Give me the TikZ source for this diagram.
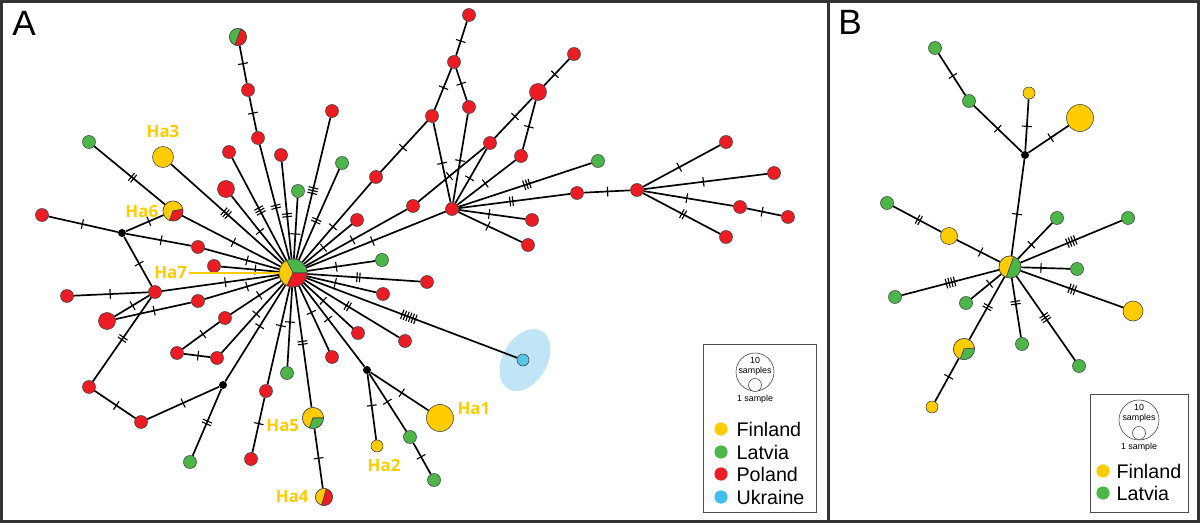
\documentclass[tikz,border=0pt]{standalone}
\usepackage{fontspec}
\setmainfont{Liberation Sans}
\newfontfamily\labfont{Open Sans}
\usetikzlibrary{positioning}

\definecolor{fin}{RGB}{255,204,0}
\definecolor{lat}{RGB}{76,183,72}
\definecolor{pol}{RGB}{237,28,36}
\definecolor{ukr}{RGB}{88,198,232}
\definecolor{ukrlt}{RGB}{192,229,246}
\definecolor{ukrkey}{RGB}{62,191,240}

\newcommand{\mk}{\rule[-3.5pt]{.8pt}{7pt}\kern1.2pt}
\newcommand{\wdg}[5]{\filldraw[fill=#5, draw=black!75, line width=.4pt] (#1.center) -- ++(#2:#4) arc[start angle=#2, end angle=#3, radius=#4] -- cycle;}

\tikzset{
  hap/.style={circle, draw=black!75, line width=.4pt, inner sep=0pt, minimum size=#1*0.025cm},
  hap/.default=13,
  pl/.style={hap=#1, fill=pol}, pl/.default=13,
  lv/.style={hap=#1, fill=lat}, lv/.default=13,
  fi/.style={hap=#1, fill=fin}, fi/.default=13,
  ua/.style={hap=#1, fill=ukr}, ua/.default=12,
  mv/.style={circle, fill=black, inner sep=0pt, minimum size=0.2cm},
  edge/.style={line width=1.2pt},
  tk/.style={sloped, inner sep=0pt, pos=#1},
  lab/.style={font=\labfont\bfseries\fontsize{12}{14}\selectfont, text=fin, inner sep=0pt},
  panelframe/.style={line width=2.2pt, draw=black!80},
  keybox/.style={line width=.6pt, draw=black!70},
  key/.style={circle, fill=#1, inner sep=0pt, minimum size=0.33cm},
  keytext/.style={inner sep=0pt, font=\fontsize{14}{16}\selectfont},
  keysmall/.style={inner sep=0pt, align=center, font=\fontsize{6.3}{7}\selectfont},
}

\begin{document}
\begin{tikzpicture}[x=0.025cm, y=-0.025cm]
    \useasboundingbox (0,0) rectangle (1200,523);
    \draw[panelframe] (1.5,1.5) rectangle (1198.5,521.5);
    \draw[panelframe] (828.5,1.5) -- (828.5,521.5);
    \node[font=\fontsize{25}{30}\selectfont, inner sep=0pt] (pA) at (24,23) {A};
    \node[font=\fontsize{25}{30}\selectfont, inner sep=0pt] (pB) at (850,22) {B};

    \fill[ukrlt, shift={(525,360)}, rotate=60] (0,0) ellipse [x radius=0.835cm, y radius=0.555cm];

    \node[hap=28] (hubA) at (293,273) {};
    \node[hap=17] (pie0) at (238,37) {};
    \node[hap=20] (ha6) at (173,211) {};
    \node[hap=21] (ha5) at (313,418) {};
    \node[hap=17] (ha4) at (324,497) {};
    \node[fi=21] (ha3) at (163,157) {};
    \node[fi=27] (ha1) at (440,418) {};
    \node[fi=12] (ha2) at (377,446) {};
    \node[ua] (ua1) at (523,360) {};
    \node[mv] (mv1) at (122,233) {};
    \node[mv] (mv2) at (223,385) {};
    \node[mv] (mv3) at (367,370) {};

    \node[pl] (p1) at (258,138) {};
    \node[pl] (p2) at (248,90) {};
    \node[pl] (p3) at (229,152) {};
    \node[pl] (p4) at (281,155) {};
    \node[pl] (p5) at (332,111) {};
    \node[pl=17] (p6) at (226,189) {};
    \node[pl] (p7) at (376,177) {};
    \node[pl] (p8) at (357,220) {};
    \node[pl] (p9) at (413,206) {};
    \node[pl] (p10) at (452,209) {};
    \node[pl] (p11) at (198,247) {};
    \node[pl] (p12) at (214,266) {};
    \node[pl] (p13) at (155,292) {};
    \node[pl] (p14) at (198,301) {};
    \node[pl] (p15) at (225,318) {};
    \node[pl] (p16) at (217,358) {};
    \node[pl] (p17) at (266,391) {};
    \node[pl] (p18) at (332,357) {};
    \node[pl] (p19) at (358,333) {};
    \node[pl] (p20) at (405,341) {};
    \node[pl] (p21) at (383,294) {};
    \node[pl] (p22) at (427,282) {};
    \node[pl] (p23) at (42,215) {};
    \node[pl] (p24) at (67,296) {};
    \node[pl=17] (p25) at (107,321) {};
    \node[pl] (p26) at (89,387) {};
    \node[pl] (p27) at (177,353) {};
    \node[pl] (p28) at (141,422) {};
    \node[pl] (p29) at (251,459) {};
    \node[pl] (p30) at (432,116) {};
    \node[pl] (p31) at (454,62) {};
    \node[pl] (p32) at (469,15) {};
    \node[pl] (p33) at (469,107) {};
    \node[pl] (p34) at (490,143) {};
    \node[pl=17] (p35) at (538,92) {};
    \node[pl] (p36) at (574,54) {};
    \node[pl] (p37) at (521,156) {};
    \node[pl] (p38) at (577,193) {};
    \node[pl] (p39) at (532,220) {};
    \node[pl] (p40) at (528,245) {};
    \node[pl] (p41) at (637,190) {};
    \node[pl] (p42) at (726,142) {};
    \node[pl] (p43) at (774,173) {};
    \node[pl] (p44) at (740,207) {};
    \node[pl] (p45) at (788,217) {};
    \node[pl] (p46) at (726,237) {};

    \node[lv] (l1) at (89,142) {};
    \node[lv] (l2) at (298,191) {};
    \node[lv] (l3) at (342,163) {};
    \node[lv] (l4) at (287,373) {};
    \node[lv] (l5) at (190,462) {};
    \node[lv] (l6) at (410,437) {};
    \node[lv] (l7) at (434,480) {};
    \node[lv] (l8) at (382,260) {};
    \node[lv] (l9) at (598,161) {};

    \draw[edge] (hubA) -- node[tk=.45]{\mk\mk} (p1);
    \draw[edge] (hubA) -- node[tk=.48]{\mk\mk\mk} (p3);
    \draw[edge] (hubA) -- node[tk=.44]{\mk\mk} (p4);
    \draw[edge] (hubA) -- node[tk=.49]{\mk\mk\mk} (p5);
    \draw[edge] (hubA) -- node[tk=.44]{\mk\mk} (l3);
    \draw[edge] (hubA) -- node[tk=.42]{\mk} (l2);
    \draw[edge] (hubA) -- node[tk=.45]{\mk} (p6);
    \draw[edge] (hubA) -- node[tk=.45]{\mk} (p7);
    \draw[edge] (hubA) -- node[tk=.42]{\mk} (p8);
    \draw[edge] (hubA) -- node[tk=.47]{\mk} (p9);
    \draw[edge] (hubA) -- node[tk=.48]{\mk} (p10);
    \draw[edge] (hubA) -- node[tk=.50]{\mk\mk\mk} (ha3);
    \draw[edge] (hubA) -- node[tk=.47]{\mk} (ha6);
    \draw[edge] (hubA) -- node[tk=.42]{\mk} (p11);
    \draw[edge] (hubA) -- node[tk=.39]{\mk} (p12);
    \draw[edge] (hubA) -- node[tk=.45]{\mk} (p13);
    \draw[edge] (hubA) -- node[tk=.42]{\mk} (p14);
    \draw[edge] (hubA) -- node[tk=.42]{\mk} (p15);
    \draw[edge] (hubA) -- node[tk=.43]{\mk} (p16);
    \draw[edge] (hubA) -- node[tk=.42]{\mk} (mv2);
    \draw[edge] (hubA) -- node[tk=.39]{\mk} (p17);
    \draw[edge] (hubA) -- node[tk=.43]{\mk} (l4);
    \draw[edge] (hubA) -- node[tk=.47]{\mk\mk} (ha5);
    \draw[edge] (hubA) -- node[tk=.42]{\mk} (p18);
    \draw[edge] (hubA) -- node[tk=.41]{\mk} (p19);
    \draw[edge] (hubA) -- node[tk=.43]{\mk} (mv3);
    \draw[edge] (hubA) -- node[tk=.46]{\mk\mk} (p20);
    \draw[edge] (hubA) -- node[tk=.49]{\mk\mk\mk\mk\mk\mk} (ua1);
    \draw[edge] (hubA) -- node[tk=.42]{\mk} (p21);
    \draw[edge] (hubA) -- node[tk=.46]{\mk\mk} (p22);
    \draw[edge] (hubA) -- node[tk=.44]{\mk} (l8);

    \draw[edge] (p1) -- node[tk=.5]{\mk} (p2);
    \draw[edge] (p2) -- node[tk=.5]{\mk} (pie0);
    \draw[edge] (ha6) -- node[tk=.45]{\mk\mk} (l1);
    \draw[edge] (mv1) -- node[tk=.5]{\mk} (p23);
    \draw[edge] (mv1) -- node[tk=.63]{\mk} (ha6);
    \draw[edge] (mv1) -- node[tk=.55]{\mk} (p11);
    \draw[edge] (mv1) -- node[tk=.56]{\mk} (p13);
    \draw[edge] (p13) -- node[tk=.5]{\mk} (p24);
    \draw[edge] (p13) -- node[tk=.46]{\mk} (p25);
    \draw[edge] (p13) -- node[tk=.48]{\mk\mk} (p26);
    \draw[edge] (p25) -- node[tk=.52]{\mk} (p14);
    \draw[edge] (p15) -- node[tk=.43]{\mk} (p27);
    \draw[edge] (p27) -- node[tk=.57]{\mk} (p16);
    \draw[edge] (p26) -- node[tk=.55]{\mk} (p28);
    \draw[edge] (p28) -- node[tk=.51]{\mk} (mv2);
    \draw[edge] (mv2) -- node[tk=.49]{\mk\mk} (l5);
    \draw[edge] (p17) -- node[tk=.46]{\mk} (p29);
    \draw[edge] (ha5) -- node[tk=.51]{\mk} (ha4);
    \draw[edge] (mv3) -- node[tk=.55]{\mk} (ha1);
    \draw[edge] (mv3) -- node[tk=.49]{\mk} (ha2);
    \draw[edge] (mv3) -- node[tk=.50]{\mk} (l6);
    \draw[edge] (l6) -- node[tk=.47]{\mk} (l7);
    \draw[edge] (p7) -- node[tk=.49]{\mk} (p30);
    \draw[edge] (p30) -- node[tk=.55]{\mk} (p31);
    \draw[edge] (p31) -- node[tk=.45]{\mk} (p32);
    \draw[edge] (p31) -- node[tk=.5]{\mk} (p33);
    \draw[edge] (p30) -- node[tk=.52]{\mk} (p10);
    \draw[edge] (p33) -- node[tk=.52]{\mk} (p10);
    \draw[edge] (p9) -- node[tk=.48]{\mk} (p34);
    \draw[edge] (p34) -- node[tk=.56]{\mk} (p35);
    \draw[edge] (p35) -- node[tk=.45]{\mk} (p36);
    \draw[edge] (p34) -- node[tk=.53]{\mk} (p10);
    \draw[edge] (p37) -- node[tk=.51]{\mk} (p10);
    \draw[edge] (p37) -- node[tk=.48]{\mk} (p35);
    \draw[edge] (p10) -- node[tk=.52]{\mk\mk\mk} (l9);
    \draw[edge] (p10) -- node[tk=.48]{\mk\mk} (p38);
    \draw[edge] (p38) -- node[tk=.53]{\mk} (p41);
    \draw[edge] (p10) -- node[tk=.47]{\mk} (p39);
    \draw[edge] (p10) -- node[tk=.48]{\mk} (p40);
    \draw[edge] (p41) -- node[tk=.48]{\mk} (p42);
    \draw[edge] (p41) -- node[tk=.49]{\mk} (p43);
    \draw[edge] (p41) -- node[tk=.49]{\mk} (p44);
    \draw[edge] (p44) -- node[tk=.47]{\mk} (p45);
    \draw[edge] (p41) -- node[tk=.53]{\mk\mk} (p46);

    \wdg{hubA}{0}{117}{0.35cm}{lat}
    \wdg{hubA}{117}{245}{0.35cm}{fin}
    \wdg{hubA}{245}{360}{0.35cm}{pol}
    \wdg{pie0}{70}{250}{0.2125cm}{lat}
    \wdg{pie0}{250}{430}{0.2125cm}{pol}
    \wdg{ha6}{10}{250}{0.25cm}{fin}
    \wdg{ha6}{250}{370}{0.25cm}{pol}
    \wdg{ha5}{0}{250}{0.2625cm}{fin}
    \wdg{ha5}{250}{360}{0.2625cm}{lat}
    \wdg{ha4}{74}{254}{0.2125cm}{fin}
    \wdg{ha4}{254}{434}{0.2125cm}{pol}

    \node[lab, above=6pt of ha3] (ha3lab) {Ha3};
    \node[lab, left=3pt of ha6] (ha6lab) {Ha6};
    \node[lab, left=2pt of ha5, yshift=-5.7pt] (ha5lab) {Ha5};
    \node[lab, left=4.5pt of ha4] (ha4lab) {Ha4};
    \node[lab, below=5pt of ha2, xshift=5pt] (ha2lab) {Ha2};
    \node[lab, right=2.5pt of ha1, yshift=6.5pt] (ha1lab) {Ha1};
    \node[lab, left=65pt of hubA] (ha7lab) {Ha7};
    \draw[fin, line width=1pt, shorten <=1.5pt] (ha7lab.east) -- (hubA.west);

    \draw[keybox] (703,344) rectangle (816,512);
    \node[hap=38, fill=none] (k10A) at (755,372) {};
    \node[hap=13, fill=white] (k1A) at (755,385) {};
    \node[keysmall] (k10Atext) at (755,366) {10\\samples};
    \node[keysmall, below=2pt of k1A] (k1Atext) {1 sample};
    \node[key=fin] (kfinA) at (721,429) {};
    \node[key=lat] (klatA) at (721,452) {};
    \node[key=pol] (kpolA) at (721,474) {};
    \node[key=ukrkey] (kukrA) at (721,497) {};
    \node[keytext, right=6pt of kfinA] {Finland};
    \node[keytext, right=6pt of klatA] {Latvia};
    \node[keytext, right=6pt of kpolA] {Poland};
    \node[keytext, right=6pt of kukrA] {Ukraine};

    \node[hap=22] (hubB) at (1010,267) {};
    \node[hap=21] (pieB) at (964,349) {};
    \node[mv] (mv4) at (1025,155) {};
    \node[fi=12] (f1) at (1029,93) {};
    \node[fi=27] (f2) at (1080,118) {};
    \node[fi=17] (f3) at (949,236) {};
    \node[fi=20] (f4) at (1133,311) {};
    \node[fi=12] (f5) at (932,407) {};
    \node[lv] (g1) at (969,101) {};
    \node[lv] (g2) at (935,48) {};
    \node[lv] (g3) at (887,203) {};
    \node[lv] (g4) at (1057,218) {};
    \node[lv] (g5) at (1128,218) {};
    \node[lv] (g6) at (1077,269) {};
    \node[lv] (g7) at (1079,366) {};
    \node[lv] (g8) at (1022,344) {};
    \node[lv] (g9) at (966,303) {};
    \node[lv] (g10) at (895,297) {};

    \draw[edge] (hubB) -- node[tk=.44]{\mk} (mv4);
    \draw[edge] (mv4) -- node[tk=.49]{\mk} (f1);
    \draw[edge] (mv4) -- node[tk=.57]{\mk} (f2);
    \draw[edge] (mv4) -- node[tk=.49]{\mk} (g1);
    \draw[edge] (g1) -- node[tk=.45]{\mk} (g2);
    \draw[edge] (hubB) -- node[tk=.43]{\mk} (f3);
    \draw[edge] (f3) -- node[tk=.45]{\mk\mk} (g3);
    \draw[edge] (hubB) -- node[tk=.41]{\mk} (g4);
    \draw[edge] (hubB) -- node[tk=.51]{\mk\mk\mk\mk} (g5);
    \draw[edge] (hubB) -- node[tk=.42]{\mk} (g6);
    \draw[edge] (hubB) -- node[tk=.51]{\mk\mk\mk} (f4);
    \draw[edge] (hubB) -- node[tk=.50]{\mk\mk\mk} (g7);
    \draw[edge] (hubB) -- node[tk=.43]{\mk\mk} (g8);
    \draw[edge] (hubB) -- node[tk=.47]{\mk\mk} (pieB);
    \draw[edge] (pieB) -- node[tk=.41]{\mk} (f5);
    \draw[edge] (hubB) -- node[tk=.37]{\mk} (g9);
    \draw[edge] (hubB) -- node[tk=.49]{\mk\mk\mk\mk} (g10);

    \wdg{hubB}{70}{250}{0.275cm}{fin}
    \wdg{hubB}{250}{430}{0.275cm}{lat}
    \wdg{pieB}{5}{250}{0.2625cm}{fin}
    \wdg{pieB}{250}{365}{0.2625cm}{lat}

    \draw[keybox] (1090,394) rectangle (1188,512);
    \node[hap=40, fill=none] (k10B) at (1139,420) {};
    \node[hap=13, fill=white] (k1B) at (1139,433) {};
    \node[keysmall] (k10Btext) at (1139,413) {10\\samples};
    \node[keysmall, below=2pt of k1B] (k1Btext) {1 sample};
    \node[key=fin] (kfinB) at (1103,471) {};
    \node[key=lat] (klatB) at (1103,493) {};
    \node[keytext, right=4.6pt of kfinB] {Finland};
    \node[keytext, right=4.6pt of klatB] {Latvia};
\end{tikzpicture}
\end{document}
